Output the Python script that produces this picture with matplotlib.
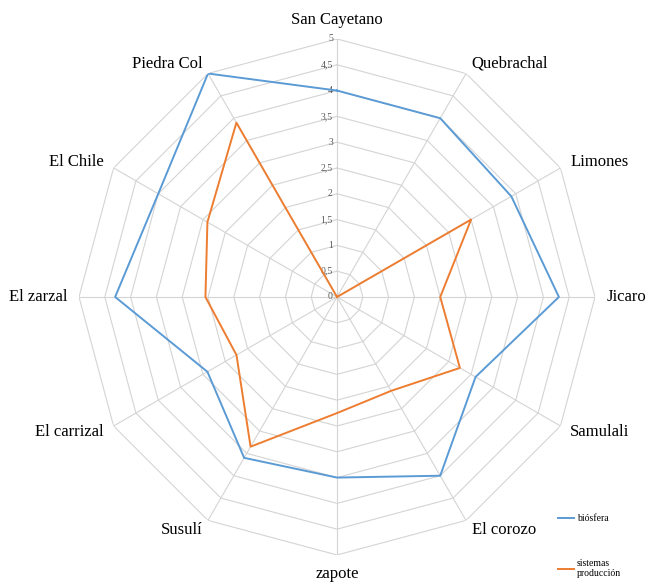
import numpy as np
from matplotlib import pyplot as plt

# categories clockwise from the top
sites = ["San Cayetano", "Quebrachal", "Limones", "Jicaro", "Samulali", "El corozo",
         "zapote", "Susulí", "El carrizal", "El zarzal", "El Chile", "Piedra Col"]
biosfera = [4.0, 4.0, 3.9, 4.3, 3.1, 4.0, 3.5, 3.6, 2.9, 4.3, 4.0, 5.0]
sistemas = [0.0, 0.0, 3.0, 2.0, 2.75, 2.1, 2.25, 3.35, 2.25, 2.55, 2.9, 3.9]
rings = np.arange(0, 5.01, 0.5)
ring_labels = ["0", "0,5", "1", "1,5", "2", "2,5", "3", "3,5", "4", "4,5", "5"]

serif = ["Liberation Serif", "DejaVu Serif"]
grid_col = "#d4d4d4"

n = len(sites)
angles = np.linspace(0, 2 * np.pi, n, endpoint=False)
closed = np.append(angles, angles[0])

fig = plt.figure(figsize=(6.46, 5.84), dpi=100)
ax = fig.add_axes([0.1223, 0.0497, 0.7988, 0.8836], projection="polar")
ax.set_theta_zero_location("N")
ax.set_theta_direction(-1)
ax.set_ylim(0, 5)
ax.grid(False)
ax.spines["polar"].set_visible(False)
ax.set_xticks([])
ax.set_yticks([])
ax.patch.set_alpha(0)

# polygon grid
for r in rings[1:]:
    ax.plot(closed, [r] * (n + 1), color=grid_col, lw=0.8, zorder=1)
for a in angles:
    ax.plot([a, a], [0, 5], color=grid_col, lw=0.8, zorder=1)

# value labels along the first spoke
for r, lab in zip(rings, ring_labels):
    ax.annotate(lab, xy=(0, r), xytext=(-3, 0), textcoords="offset points",
                ha="right", va="center", fontsize=7, color="#595959", family=serif)

# category labels
for a, name in zip(angles, sites):
    s = np.sin(a)
    if abs(s) < 1e-6:
        ha = "center"
        va = "bottom" if np.cos(a) > 0 else "top"
    else:
        ha = "left" if s > 0 else "right"
        va = "center"
    ax.text(a, 5.22, name, ha=ha, va=va, fontsize=12, family=serif, color="#000000")

ax.plot(closed, biosfera + biosfera[:1], color="#5b9bd5", lw=1.4, zorder=3, label="biósfera")
ax.plot(closed, sistemas + sistemas[:1], color="#ed7d31", lw=1.4, zorder=3,
        label="sistemas\nproducción")

fig.legend(loc="upper left", bbox_to_anchor=(0.857, 0.128), frameon=False,
           prop={"family": serif, "size": 7}, handlelength=1.6, handletextpad=0.3,
           labelspacing=3.7, borderpad=0)

fig.savefig("out.png", dpi=100)
